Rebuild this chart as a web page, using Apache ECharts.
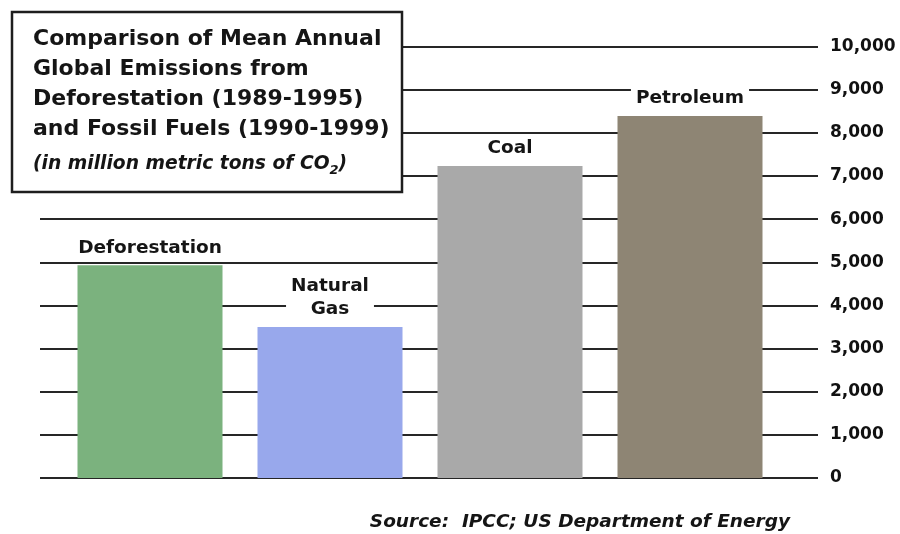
<!DOCTYPE html>
<html>
<head>
<meta charset="utf-8">
<script src="https://cdn.jsdelivr.net/npm/echarts@6/dist/echarts.min.js"></script>
<style>
html,body{margin:0;padding:0;background:#fff;}
#chart{width:900px;height:534px;}
</style>
</head>
<body>
<div id="chart"></div>
<script>
// ---- data ----
const categories = ['Deforestation', 'Natural\nGas', 'Coal', 'Petroleum'];
const emissions = [4930, 3500, 7230, 8390];
const barColors = ['#7bb27e', '#98a8ec', '#a9a9a9', '#8e8574'];
const yMin = 0, yMax = 10000, yStep = 1000;
const titleLines = [
  'Comparison of Mean Annual',
  'Global Emissions from',
  'Deforestation (1989-1995)',
  'and Fossil Fuels (1990-1999)'
];
const unitText = '(in million metric tons of CO';
const sourceText = 'Source:  IPCC; US Department of Energy';

const FONT = '"DejaVu Sans", Verdana, sans-serif';
const chart = echarts.init(document.getElementById('chart'), null, {renderer: 'canvas'});

const option = {
  backgroundColor: '#fff',
  animation: false,
  grid: [
    {left: 40, right: 82, top: 46.5, bottom: 56},
    {left: 60, right: 120, top: 46.5, bottom: 56}
  ],
  xAxis: [
    {type: 'category', gridIndex: 0, data: categories, show: false},
    {type: 'category', gridIndex: 1, data: categories, show: false}
  ],
  yAxis: [
    {
      type: 'value', gridIndex: 0, position: 'right',
      min: yMin, max: yMax, interval: yStep,
      axisLine: {show: false}, axisTick: {show: false},
      splitLine: {lineStyle: {color: '#262626', width: 2}},
      axisLabel: {
        margin: 12, color: '#111', fontFamily: FONT, fontWeight: 'bold', fontSize: 17,
        padding: [3, 0, 0, 0],
        formatter: v => v.toLocaleString('en-US')
      }
    },
    {type: 'value', gridIndex: 1, min: yMin, max: yMax, interval: yStep, show: false, splitLine: {show: false}}
  ],
  series: [{
    type: 'bar', xAxisIndex: 1, yAxisIndex: 1,
    barWidth: 145,
    data: emissions.map((v, i) => ({value: v, itemStyle: {color: barColors[i]}})),
    label: {
      show: true, position: 'top', distance: 6,
      formatter: '{b}',
      fontFamily: FONT, fontWeight: 'bold', fontSize: 18.5, lineHeight: 23,
      color: '#151515', backgroundColor: '#fff', padding: [0, 5]
    },
    z: 3
  }],
  graphic: [
    {
      type: 'rect', z: 100,
      shape: {x: 12, y: 12, width: 390, height: 180},
      style: {fill: '#fff', stroke: '#1e1e1e', lineWidth: 2.5}
    },
    {
      type: 'text', z: 101, x: 33, y: 24,
      style: {
        text: titleLines.join('\n'),
        font: 'bold 22px ' + FONT, lineHeight: 30, fill: '#151515'
      }
    },
    {
      type: 'text', z: 101, x: 33, y: 155,
      style: {
        text: '{i|' + unitText + '}{s|2}{i|)}',
        rich: {
          i: {font: 'italic bold 18.7px ' + FONT, fill: '#151515', verticalAlign: 'bottom'},
          s: {font: 'italic bold 13px ' + FONT, fill: '#151515', verticalAlign: 'bottom', padding: [0, 0, -3, 0]}
        }
      }
    },
    {
      type: 'text', z: 101, x: 790, y: 513,
      style: {
        text: sourceText, textAlign: 'right',
        font: 'italic bold 18.5px ' + FONT, fill: '#151515'
      }
    }
  ]
};
chart.setOption(option);
</script>
</body>
</html>
